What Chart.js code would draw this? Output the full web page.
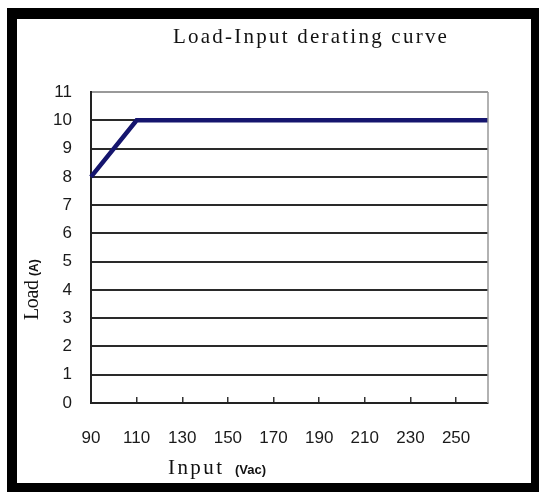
<!DOCTYPE html>
<html>
<head>
<meta charset="utf-8">
<script src="https://cdn.jsdelivr.net/npm/chart.js@4"></script>
<style>
  html, body { margin: 0; padding: 0; background: #fff; }
  #wrap { position: relative; width: 539px; height: 492px; }
  #frame {
    position: absolute; left: 7px; top: 8px; right: 0; bottom: 0;
    border-style: solid; border-color: #000;
    border-width: 11px 8px 9px 10px;
    pointer-events: none;
  }
</style>
</head>
<body>
<div id="wrap">
  <canvas id="derating" width="539" height="492"></canvas>
  <div id="frame"></div>
</div>
<script>
// values
const inputVac = [90, 110, 264];
const loadA = [8, 10, 10];
const xTicks = [90, 110, 130, 150, 170, 190, 210, 230, 250];
const yTicks = [0, 1, 2, 3, 4, 5, 6, 7, 8, 9, 10, 11];

const titleText = "Load-Input derating curve";
const serif = "'Liberation Serif', 'DejaVu Serif', serif";
const sans = "'Liberation Sans', Arial, sans-serif";

// draw text stretched with letter spacing to a given width (SimSun-like look)
function fitText(ctx, text, x, y, width) {
  ctx.letterSpacing = "0px";
  const w = ctx.measureText(text).width;
  const gap = (width - w) / (text.length - 1);
  ctx.letterSpacing = gap.toFixed(2) + "px";
  ctx.fillText(text, x, y);
  ctx.letterSpacing = "0px";
}

// titles and the grey right edge of the plot box
const labelsPlugin = {
  id: "labels",
  afterDraw(chart) {
    const ctx = chart.ctx;
    const a = chart.chartArea;
    ctx.save();
    ctx.strokeStyle = "#999";
    ctx.lineWidth = 1.5;
    ctx.beginPath();
    ctx.moveTo(a.right, a.top);
    ctx.lineTo(a.right, a.bottom);
    ctx.stroke();

    ctx.fillStyle = "#111";
    ctx.textBaseline = "alphabetic";
    ctx.textAlign = "left";
    ctx.font = "21px " + serif;
    fitText(ctx, titleText, 173, 43, 274);

    // x axis title
    ctx.font = "21px " + serif;
    fitText(ctx, "Input", 168, 474, 54);
    ctx.font = "bold 13px " + sans;
    ctx.fillText("(Vac)", 235, 474);

    // y axis title
    ctx.translate(38, 320);
    ctx.rotate(-Math.PI / 2);
    ctx.font = "20px " + serif;
    fitText(ctx, "Load", 0, 0, 40);
    ctx.font = "bold 12px " + sans;
    ctx.fillText("(A)", 44, 0);
    ctx.restore();
  }
};

new Chart(document.getElementById("derating"), {
  type: "line",
  data: {
    datasets: [{
      label: "Load",
      data: inputVac.map((x, i) => ({ x: x, y: loadA[i] })),
      borderColor: "#15156e",
      borderWidth: 4.5,
      pointRadius: 0,
      tension: 0,
      clip: false
    }]
  },
  options: {
    responsive: false,
    animation: false,
    layout: { padding: { left: 0, top: 92, right: 51, bottom: 0 } },
    plugins: {
      legend: { display: false },
      title: { display: false },
      tooltip: { enabled: false }
    },
    scales: {
      x: {
        type: "linear",
        min: 90,
        max: 264,
        afterBuildTicks: s => { s.ticks = xTicks.map(v => ({ value: v })); },
        afterFit: s => { s.height = 89; },
        grid: {
          drawOnChartArea: false,
          drawTicks: true,
          tickLength: -6,
          color: "#333",
          lineWidth: 1.5
        },
        border: { color: "#222", width: 2 },
        ticks: {
          padding: 31,
          color: "#1a1a1a",
          font: { family: sans, size: 17 },
          maxRotation: 0,
          autoSkip: false
        }
      },
      y: {
        min: 0,
        max: 11,
        afterBuildTicks: s => { s.ticks = yTicks.map(v => ({ value: v })); },
        afterFit: s => { s.width = 91; },
        grid: {
          drawTicks: false,
          color: c => (c.tick && c.tick.value === 11 ? "#999" : "#2a2a2a"),
          lineWidth: 2
        },
        border: { color: "#222", width: 2 },
        ticks: {
          padding: 19,
          color: "#1a1a1a",
          font: { family: sans, size: 17 },
          autoSkip: false
        }
      }
    }
  },
  plugins: [labelsPlugin]
});
</script>
</body>
</html>
